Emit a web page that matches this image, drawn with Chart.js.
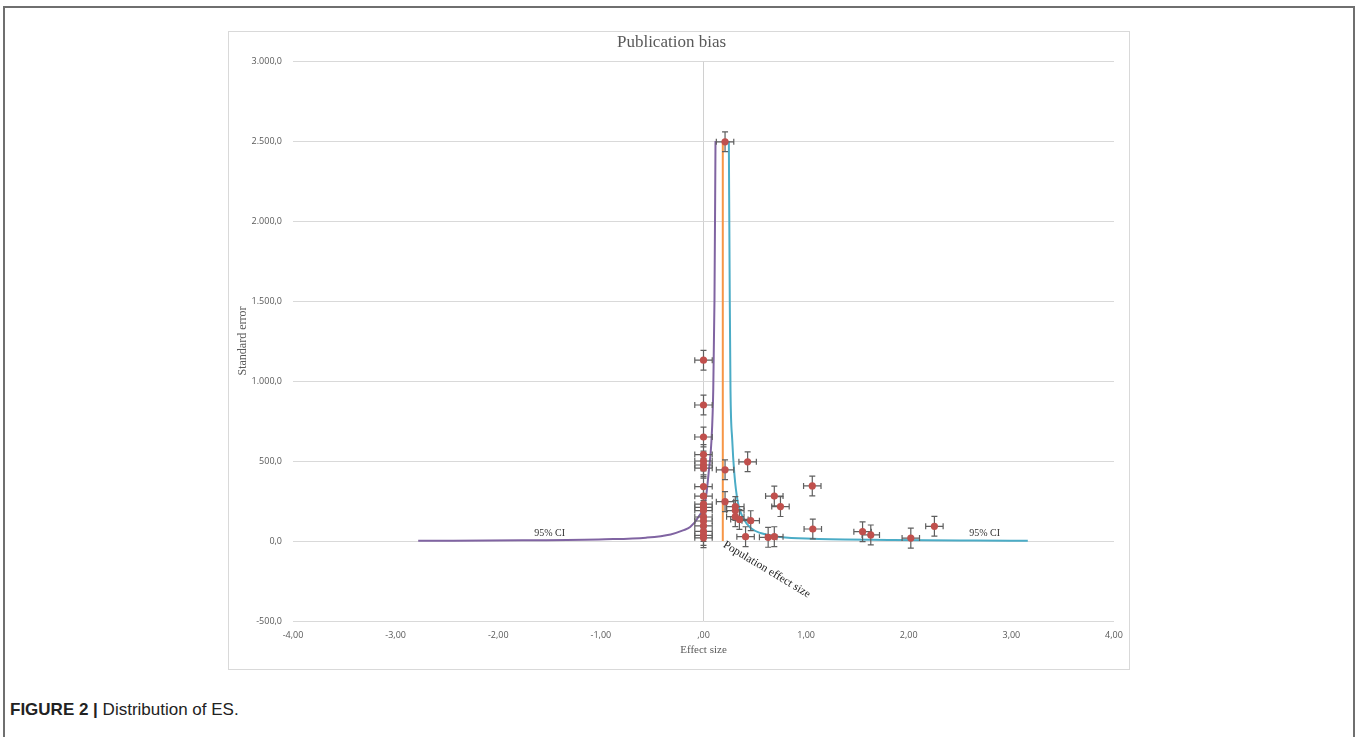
<!DOCTYPE html>
<html>
<head>
<meta charset="utf-8">
<script src="https://cdn.jsdelivr.net/npm/chart.js@4.4.0/dist/chart.umd.min.js"></script>
<style>
  body { margin: 0; background: #fff; width: 1357px; height: 737px; overflow: hidden; position: relative; }
  #frame { position: absolute; left: 3px; top: 6px; width: 1348px; height: 740px; border: 2px solid #6f6f6f; border-bottom: none; }
  #box { position: absolute; left: 228px; top: 31px; width: 900px; height: 637px; border: 1px solid #d9d9d9; }
  #caption { position: absolute; left: 10px; top: 700px; font-family: "Liberation Sans", Arial, sans-serif; font-size: 17px; color: #222; }
  #caption b { font-weight: bold; }
</style>
</head>
<body>
<div id="frame"></div>
<div id="box"><canvas id="biasChart" width="900" height="637"></canvas></div>
<div id="caption"><b>FIGURE 2 |</b> Distribution of ES.</div>
<script>
// funnel lines
let ciLowX = [-2.78, -1.76, -0.96, -0.56, -0.32, -0.20, -0.13, -0.05, 0.02, 0.05, 0.078, 0.095, 0.107, 0.117];
let ciLowY = [1, 4, 11, 21, 41, 66, 87, 150, 256, 425, 631, 944, 1506, 2500];
let ciHighX = [0.247, 0.256, 0.263, 0.28, 0.30, 0.335, 0.39, 0.46, 0.555, 0.75, 1.07, 1.84, 2.64, 3.16];
let ciHighY = [2500, 1506, 944, 631, 425, 240, 140, 81, 50, 25, 14, 7, 3, 1];
let popX = [0.188, 0.188];
let popY = [0, 2500];

// studies
let studyX = [0.21, 0, 0, 0, 0, 0, 0, 0, 0, 0, 0, 0, 0, 0, 0, 0, 0, 0, 0,
    0.21, 0.43, 0.21, 0.31, 0.31, 0.31, 0.35, 0.46, 0.41, 0.63, 0.69, 0.69, 0.75, 1.06, 1.065, 1.55, 1.63, 2.02, 2.25];
let studyY = [2495, 1130, 850, 650, 540, 500, 475, 455, 340, 280, 230, 210, 190, 150, 125, 95, 60, 35, 20,
    445, 495, 246, 215, 190, 152, 135, 127, 27, 23, 27, 281, 215, 344, 75, 58, 38, 18, 92];
let errX = 0.085;
let errY = 62;

let xTickLabels = ['-4,00', '-3,00', '-2,00', '-1,00', ',00', '1,00', '2,00', '3,00', '4,00'];
let yTickLabels = ['-500,0', '0,0', '500,0', '1.000,0', '1.500,0', '2.000,0', '2.500,0', '3.000,0'];

function toPoints(xs, ys) {
    return xs.map((v, i) => ({ x: v, y: ys[i] }));
}

const errorBars = {
    id: 'errorBars',
    beforeDatasetDraw(chart, args) {
        if (args.index !== 3) return;
        const xs = chart.scales.x, ys = chart.scales.y, c = chart.ctx;
        c.save();
        c.strokeStyle = '#5f5f5f';
        c.lineWidth = 1.2;
        studyX.forEach((v, i) => {
            let px = xs.getPixelForValue(v), py = ys.getPixelForValue(studyY[i]);
            let x0 = xs.getPixelForValue(v - errX), x1 = xs.getPixelForValue(v + errX);
            let y0 = ys.getPixelForValue(studyY[i] - errY), y1 = ys.getPixelForValue(studyY[i] + errY);
            c.beginPath();
            c.moveTo(x0, py); c.lineTo(x1, py);
            c.moveTo(px, y0); c.lineTo(px, y1);
            c.moveTo(x0, py - 3); c.lineTo(x0, py + 3);
            c.moveTo(x1, py - 3); c.lineTo(x1, py + 3);
            c.moveTo(px - 3, y0); c.lineTo(px + 3, y0);
            c.moveTo(px - 3, y1); c.lineTo(px + 3, y1);
            c.stroke();
        });
        c.restore();
    }
};

const labelsPlugin = {
    id: 'labelsPlugin',
    afterDatasetsDraw(chart) {
        const xs = chart.scales.x, ys = chart.scales.y, c = chart.ctx;
        c.save();
        c.font = '10px "Liberation Serif", serif';
        c.fillStyle = '#333';
        c.textAlign = 'center';
        c.textBaseline = 'middle';
        c.fillText('95% CI', xs.getPixelForValue(-1.50), ys.getPixelForValue(45));
        c.fillText('95% CI', xs.getPixelForValue(2.74), ys.getPixelForValue(50));
        c.translate(xs.getPixelForValue(0.23), ys.getPixelForValue(12));
        c.rotate(31 * Math.PI / 180);
        c.font = '11.5px "Liberation Serif", serif';
        c.fillStyle = '#222';
        c.textAlign = 'left';
        c.textBaseline = 'top';
        c.fillText('Population effect size', 0, 0);
        c.restore();
    }
};

let ctx = document.getElementById('biasChart');
let chart = new Chart(ctx, {
    type: 'scatter',
    data: {
        datasets: [
            {
                label: 'CI low',
                data: toPoints(ciLowX, ciLowY),
                showLine: true,
                borderColor: '#8064a2',
                borderWidth: 2,
                pointRadius: 0,
                cubicInterpolationMode: 'monotone',
                order: 3
            },
            {
                label: 'Population effect size',
                data: toPoints(popX, popY),
                showLine: true,
                borderColor: '#f79646',
                borderWidth: 2,
                pointRadius: 0,
                order: 3
            },
            {
                label: 'CI high',
                data: toPoints(ciHighX, ciHighY),
                showLine: true,
                borderColor: '#4bacc6',
                borderWidth: 2,
                pointRadius: 0,
                cubicInterpolationMode: 'monotone',
                order: 3
            },
            {
                label: 'Studies',
                data: toPoints(studyX, studyY),
                showLine: false,
                backgroundColor: '#c0504d',
                borderColor: '#c0504d',
                pointRadius: 3.6,
                pointBorderWidth: 0,
                order: 1
            }
        ]
    },
    options: {
        responsive: false,
        animation: false,
        layout: { padding: { left: 0, right: 15, top: 0, bottom: 0 } },
        scales: {
            x: {
                type: 'linear',
                min: -4,
                max: 4,
                afterFit: s => { s.height = 48; s.paddingLeft = 0; s.paddingRight = 0; },
                ticks: {
                    stepSize: 1,
                    padding: 9,
                    color: '#595959',
                    font: { family: '"Open Sans", sans-serif', size: 9 },
                    callback: (v, i) => xTickLabels[i]
                },
                grid: {
                    drawTicks: false,
                    color: c => (c.tick && c.tick.value === 0) ? '#d0d0d0' : 'rgba(0,0,0,0)'
                },
                border: { display: false },
                title: {
                    display: true,
                    text: 'Effect size',
                    color: '#595959',
                    font: { family: '"Liberation Serif", serif', size: 11 },
                    padding: { top: 0, bottom: 12 }
                }
            },
            y: {
                min: -500,
                max: 3000,
                afterFit: s => { s.width = 64; s.paddingTop = 0; s.paddingBottom = 0; },
                ticks: {
                    stepSize: 500,
                    padding: 11,
                    color: '#595959',
                    font: { family: '"Open Sans", sans-serif', size: 9 },
                    callback: (v, i) => yTickLabels[i]
                },
                grid: { drawTicks: false, color: '#d9d9d9' },
                border: { display: false },
                title: {
                    display: true,
                    text: 'Standard error',
                    color: '#595959',
                    font: { family: '"Liberation Serif", serif', size: 12 },
                    padding: { top: 7, bottom: 0 }
                }
            }
        },
        plugins: {
            legend: { display: false },
            tooltip: { enabled: false },
            title: {
                display: true,
                text: 'Publication bias',
                color: '#595959',
                font: { family: '"Liberation Serif", serif', size: 17, weight: 'normal' },
                padding: { top: 0, bottom: 8.6 }
            }
        }
    },
    plugins: [errorBars, labelsPlugin]
});
</script>
</body>
</html>
